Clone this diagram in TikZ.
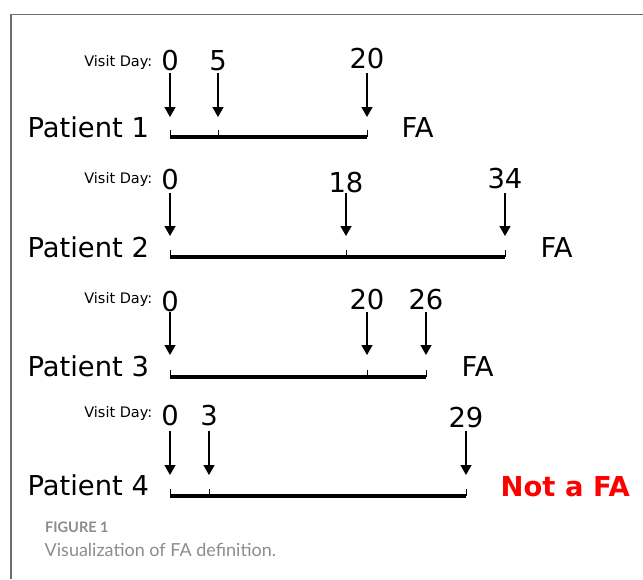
\documentclass[tikz,border=0pt]{standalone}
\usepackage{fontspec}
\setmainfont{DejaVu Sans}
\newfontfamily\capfont{Lato}
\usetikzlibrary{arrows.meta}

\definecolor{framegray}{HTML}{6E6E6E}
\definecolor{capgray}{HTML}{8C8C8C}
\definecolor{alertred}{HTML}{FF0000}

\begin{document}
\begin{tikzpicture}[x=1pt,y=-1pt,
  big/.style={font=\fontsize{27.4}{30}\selectfont, inner sep=0pt},
  daylabel/.style={big, anchor=base},
  visitlabel/.style={font=\fontsize{14.5}{16}\selectfont, inner sep=0pt, anchor=base east},
  patient/.style={big, anchor=base west},
  verdict/.style={big, anchor=base west},
  visitarrow/.style={line width=1.5pt, -{Triangle[width=11pt,length=10pt]}},
  timeline/.style={line width=3.2pt},
  tickmark/.style={line width=0.9pt},
  captitle/.style={font=\capfont\bfseries\fontsize{14.5}{16}\selectfont, text=capgray, inner sep=0pt, anchor=base west},
  captext/.style={font=\capfont\fontsize{18}{20}\selectfont, text=capgray, inner sep=0pt, anchor=base west},
]
\useasboundingbox (0,0) rectangle (643,579);

% panel frame (top and left edges)
\draw[framegray, line width=1.2pt] (643,14.3) -- (11,14.3) -- (11,579);

% ---------- Patient 1 ----------
\node[visitlabel] (v1) at (152.5,66) {Visit Day:};
\node[daylabel] (d1a) at (170,70) {0};
\node[daylabel] (d1b) at (218,70) {5};
\node[daylabel] (d1c) at (367,68) {20};
\node[patient] (p1) at (27.3,137) {Patient 1};
\node[verdict] (r1) at (401.3,137) {FA};
\foreach \n/\x in {a/170,b/218,c/367}{
  \coordinate (s1\n) at (\x,73);
  \coordinate (e1\n) at (\x,117);
  \coordinate (t1\n) at (\x,137);
  \draw[visitarrow] (s1\n) -- (e1\n);
  \draw[tickmark] (t1\n) -- ++(0,-7);
}
\draw[timeline] (t1a) -- (t1c);

% ---------- Patient 2 ----------
\node[visitlabel] (v2) at (152.5,183) {Visit Day:};
\node[daylabel] (d2a) at (170,189) {0};
\node[daylabel] (d2b) at (346,192) {18};
\node[daylabel] (d2c) at (505,188) {34};
\node[patient] (p2) at (27.3,257) {Patient 2};
\node[verdict] (r2) at (540.3,257) {FA};
\foreach \n/\x in {a/170,b/346,c/505}{
  \coordinate (s2\n) at (\x,193);
  \coordinate (e2\n) at (\x,236);
  \coordinate (t2\n) at (\x,257);
  \draw[visitarrow] (s2\n) -- (e2\n);
  \draw[tickmark] (t2\n) -- ++(0,-7);
}
\draw[timeline] (t2a) -- (t2c);

% ---------- Patient 3 ----------
\node[visitlabel] (v3) at (152.5,303) {Visit Day:};
\node[daylabel] (d3a) at (170,311) {0};
\node[daylabel] (d3b) at (367,309) {20};
\node[daylabel] (d3c) at (426,309) {26};
\node[patient] (p3) at (27.3,376) {Patient 3};
\node[verdict] (r3) at (461.3,376) {FA};
\foreach \n/\x in {a/170,b/367,c/426}{
  \coordinate (s3\n) at (\x,312);
  \coordinate (e3\n) at (\x,355);
  \coordinate (t3\n) at (\x,377);
  \draw[visitarrow] (s3\n) -- (e3\n);
  \draw[tickmark] (t3\n) -- ++(0,-7);
}
\draw[timeline] (t3a) -- (t3c);

% ---------- Patient 4 ----------
\node[visitlabel] (v4) at (152.5,417) {Visit Day:};
\node[daylabel] (d4a) at (170,425) {0};
\node[daylabel] (d4b) at (209,425) {3};
\node[daylabel] (d4c) at (466,427) {29};
\node[patient] (p4) at (27.3,495) {Patient 4};
\node[verdict, text=alertred, font=\bfseries\fontsize{27.4}{30}\selectfont] (r4) at (500.5,496) {Not a FA};
\foreach \n/\x in {a/170,b/209,c/466}{
  \coordinate (s4\n) at (\x,431);
  \coordinate (e4\n) at (\x,475);
  \coordinate (t4\n) at (\x,496);
  \draw[visitarrow] (s4\n) -- (e4\n);
  \draw[tickmark] (t4\n) -- ++(0,-7);
}
\draw[timeline] (t4a) -- (t4c);

% ---------- caption ----------
\node[captitle] (figno) at (45,532) {FIGURE 1};
\node[captext] (figcap) at (44.5,556.5) {Visualization of FA definition.};
\end{tikzpicture}
\end{document}
